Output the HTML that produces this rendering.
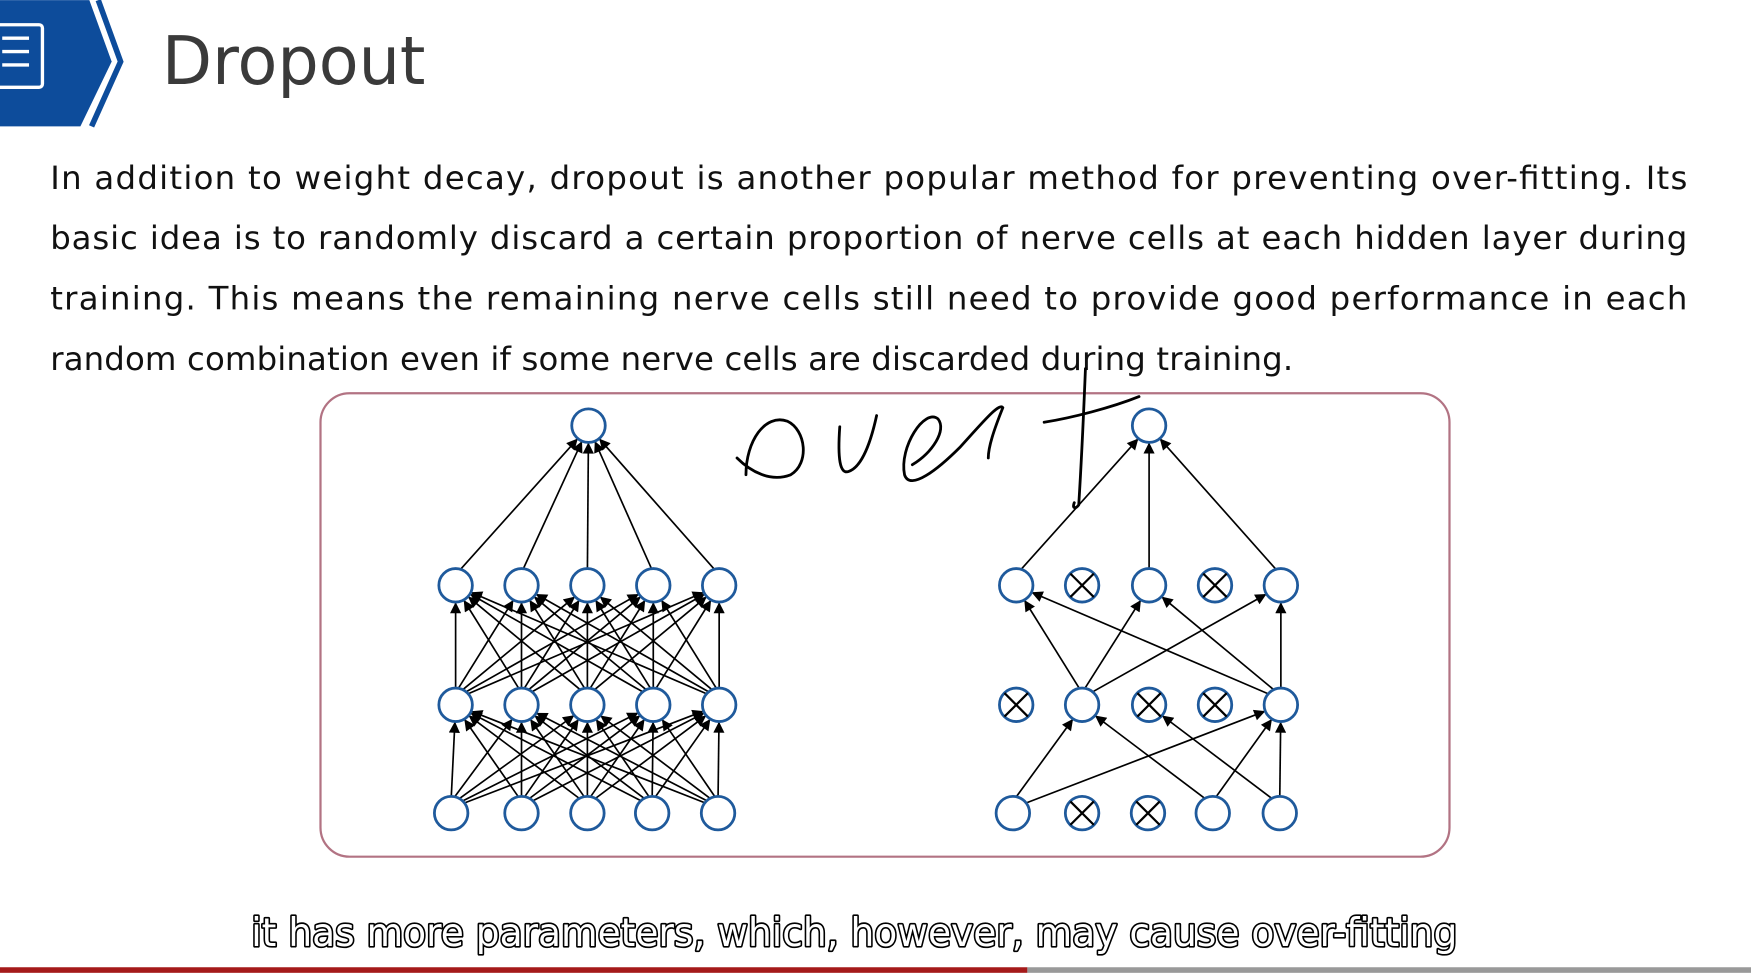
<!DOCTYPE html>
<html><head><meta charset="utf-8"><style>
html,body{margin:0;padding:0;background:#fff;}
svg{display:block;}
</style></head><body>
<svg id="s" width="1751" height="973" viewBox="0 0 1568 871" xmlns="http://www.w3.org/2000/svg">
<defs>
<marker id="a" viewBox="0 0 10 10" refX="10" refY="5" markerWidth="11" markerHeight="10" markerUnits="userSpaceOnUse" orient="auto"><path d="M0,0 L10,5 L0,10 z" fill="#000"/></marker>
</defs>
<rect width="1568" height="871" fill="#fff"/>
<polygon points="0,0 80,0 100,55 72,113 0,113" fill="#0d4c9b"/>
<polyline points="88,0 108,55 82,113" fill="none" stroke="#0d4c9b" stroke-width="5"/>
<polyline points="82,0 102,55 76,113" fill="none" stroke="#fff" stroke-width="2"/>
<rect x="-6" y="22" width="44" height="56" rx="3" fill="none" stroke="#fff" stroke-width="3"/>
<path d="M2,34h24M2,46h24M2,58h24" stroke="#fff" stroke-width="3"/>
<text x="145" y="75" font-family="DejaVu Sans, Liberation Sans, sans-serif" font-size="60" fill="#3a3a3a" textLength="236" lengthAdjust="spacingAndGlyphs">Dropout</text>
<g font-family="DejaVu Sans, Liberation Sans, sans-serif" font-size="29" fill="#111">
<text x="45" y="169" textLength="1466" lengthAdjust="spacing">In addition to weight decay, dropout is another popular method for preventing over-fitting. Its</text>
<text x="45" y="223" textLength="1466" lengthAdjust="spacing">basic idea is to randomly discard a certain proportion of nerve cells at each hidden layer during</text>
<text x="45" y="277" textLength="1466" lengthAdjust="spacing">training. This means the remaining nerve cells still need to provide good performance in each</text>
<text x="45" y="331" textLength="1113" lengthAdjust="spacing">random combination even if some nerve cells are discarded during training.</text>
</g>
<rect x="287" y="352" width="1011" height="415" rx="26" fill="none" stroke="#b27383" stroke-width="2"/>
<g id="edges" stroke="#000" stroke-width="1.5" fill="none"></g>
<g id="nodes"></g>
<g stroke="#000" stroke-width="2.5" fill="none" stroke-linecap="round">
<path d="M660,410 C672,422 690,432 708,425 C725,415 722,385 705,377 C685,370 668,395 668,425"/>
<path d="M752,382 C750,410 752,425 760,422 C772,418 780,395 785,372"/>
<path d="M817,416 C835,405 848,385 840,375 C828,365 805,400 810,425 C815,440 840,420 860,400 C880,378 895,360 898,365 C890,385 885,400 885,410"/>
<path d="M935,378 C960,374 995,365 1020,355"/>
<path d="M972,330 C970,380 968,420 966,452 C963,456 960,455 962,450"/>
</g>
<text x="765" y="847" text-anchor="middle" font-family="DejaVu Sans, sans-serif" font-size="35" fill="#fff" stroke="#000" stroke-width="3" stroke-linejoin="round" paint-order="stroke" textLength="1080" lengthAdjust="spacingAndGlyphs">it has more parameters, which, however, may cause over-fitting</text>
<rect x="0" y="866" width="920" height="5" fill="#a51a1a"/>
<rect x="920" y="866" width="648" height="5" fill="#999"/>
</svg>
<script>
var E=document.getElementById('edges'),N=document.getElementById('nodes'),ns='http://www.w3.org/2000/svg',R=15;
function line(x1,y1,x2,y2){var dx=x2-x1,dy=y2-y1,l=Math.hypot(dx,dy);var a=document.createElementNS(ns,'line');
a.setAttribute('x1',x1+dx/l*R*0.2);a.setAttribute('y1',y1+dy/l*R);a.setAttribute('x2',x2-dx/l*R);a.setAttribute('y2',y2-dy/l*R);a.setAttribute('marker-end','url(#a)');E.appendChild(a);}
function node(x,y,x_){var c=document.createElementNS(ns,'circle');c.setAttribute('cx',x);c.setAttribute('cy',y);c.setAttribute('r',R);c.setAttribute('fill','#fff');c.setAttribute('stroke','#1f5a9c');c.setAttribute('stroke-width','2.5');N.appendChild(c);
if(x_){var p=document.createElementNS(ns,'path');var d=R*0.7;p.setAttribute('d','M'+(x-d)+','+(y-d)+'L'+(x+d)+','+(y+d)+'M'+(x+d)+','+(y-d)+'L'+(x-d)+','+(y+d));p.setAttribute('stroke','#000');p.setAttribute('stroke-width','2');N.appendChild(p);}}
var hx=[408,467,526,585,644],ix=[404,467,526,584,643];
for(var i=0;i<5;i++)for(var j=0;j<5;j++){line(ix[i],728,hx[j],631);line(hx[i],631,hx[j],524);}
for(var i=0;i<5;i++)line(hx[i],524,527,381);
node(527,381);for(var i=0;i<5;i++){node(hx[i],524);node(hx[i],631);node(ix[i],728);}
var T=[1029,381];
[[910,524],[1029,524],[1147,524]].forEach(function(p){line(p[0],p[1],T[0],T[1]);});
[[969,910],[969,1029],[969,1147],[1147,910],[1147,1029],[1147,1147]].forEach(function(p){line(p[0],631,p[1],524);});
[[907,969],[907,1147],[1086,969],[1086,1147],[1146,1029],[1146,1147]].forEach(function(p){line(p[0],728,p[1],631);});
node(1029,381);
[[910,0],[969,1],[1029,0],[1088,1],[1147,0]].forEach(function(p){node(p[0],524,p[1]);});
[[910,1],[969,0],[1029,1],[1088,1],[1147,0]].forEach(function(p){node(p[0],631,p[1]);});
[[907,0],[969,1],[1028,1],[1086,0],[1146,0]].forEach(function(p){node(p[0],728,p[1]);});
</script>
</body></html>
